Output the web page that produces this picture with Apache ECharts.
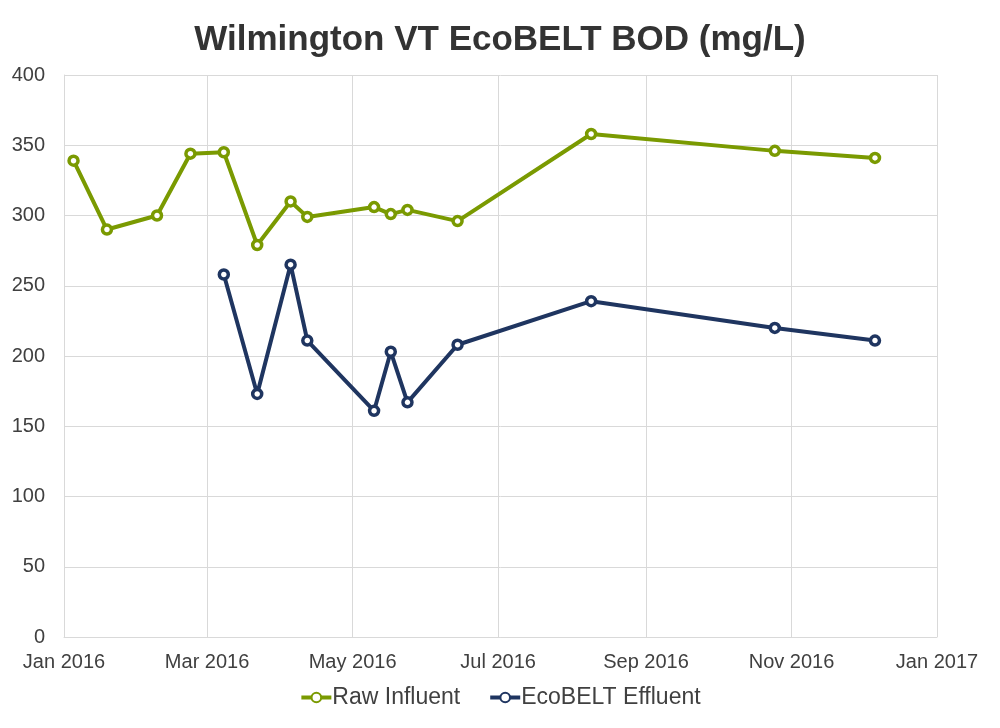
<!DOCTYPE html>
<html lang="en">
  <head>
    <meta charset="UTF-8" />
    <title>Wilmington VT EcoBELT BOD</title>
    <style>
      html, body { margin: 0; padding: 0; background: #fff; }
      #main { width: 1000px; height: 728px; }
    </style>
  </head>
  <body>
    <script src="https://cdn.jsdelivr.net/npm/echarts@6/dist/echarts.min.js"></script>
    <div id="main"></div>
    <script>
      const rawDates = [
        '2016-01-05', '2016-01-19', '2016-02-09', '2016-02-23', '2016-03-08',
        '2016-03-22', '2016-04-05', '2016-04-12', '2016-05-10', '2016-05-17',
        '2016-05-24', '2016-06-14', '2016-08-09', '2016-10-25', '2016-12-06'
      ]
      const rawValues = [339, 290, 300, 344, 345, 279, 310, 299, 306, 301, 304, 296, 358, 346, 341]

      const effDates = [
        '2016-03-08', '2016-03-22', '2016-04-05', '2016-04-12', '2016-05-10',
        '2016-05-17', '2016-05-24', '2016-06-14', '2016-08-09', '2016-10-25', '2016-12-06'
      ]
      const effValues = [258, 173, 265, 211, 161, 203, 167, 208, 239, 220, 211]

      const tickDates = ['2016-01-01', '2016-03-01', '2016-05-01', '2016-07-01', '2016-09-01', '2016-11-01', '2017-01-01']
      const monthNames = ['Jan', 'Feb', 'Mar', 'Apr', 'May', 'Jun', 'Jul', 'Aug', 'Sep', 'Oct', 'Nov', 'Dec']

      // dates -> UTC ms, plotted on a plain value axis so the 2-month ticks can be placed exactly
      const toTime = s => {
        const [y, m, d] = s.split('-').map(Number)
        return Date.UTC(y, m - 1, d)
      }
      const pairs = (dates, vals) => dates.map((d, i) => [toTime(d), vals[i]])
      const ticks = tickDates.map(toTime)

      const font = 'Liberation Sans, Arial, sans-serif'
      const green = '#7a9a01'
      const navy = '#1f3560'
      const chart = echarts.init(document.getElementById('main'))

      chart.setOption({
        animation: false,
        title: {
          text: 'Wilmington VT EcoBELT BOD (mg/L)',
          left: 'center',
          top: 18,
          textStyle: { fontFamily: font, fontSize: 35, fontWeight: 'bold', color: '#333' }
        },
        legend: {
          bottom: 14,
          left: 'center',
          itemWidth: 30,
          itemHeight: 12,
          itemGap: 28,
          lineStyle: { width: 4 },
          textStyle: { fontFamily: font, fontSize: 23, color: '#404040', padding: [0, 0, 0, -4] },
          data: ['Raw Influent', 'EcoBELT Effluent']
        },
        grid: { left: 64, right: 63, top: 75, bottom: 91, containLabel: false },
        xAxis: {
          type: 'value',
          min: ticks[0],
          max: ticks[ticks.length - 1],
          axisLine: { show: true, lineStyle: { color: '#d9d9d9', width: 1 } },
          axisTick: { show: false, customValues: ticks },
          splitLine: { show: true, lineStyle: { color: '#d9d9d9', width: 1 } },
          axisLabel: {
            customValues: ticks,
            margin: 15,
            fontFamily: font,
            fontSize: 20,
            color: '#404040',
            formatter: v => {
              const d = new Date(v)
              return monthNames[d.getUTCMonth()] + ' ' + d.getUTCFullYear()
            }
          }
        },
        yAxis: {
          type: 'value',
          min: 0,
          max: 400,
          interval: 50,
          axisLine: { show: true, lineStyle: { color: '#d9d9d9', width: 1 } },
          axisTick: { show: false },
          splitLine: { lineStyle: { color: '#d9d9d9', width: 1 } },
          axisLabel: { margin: 19, fontFamily: font, fontSize: 20, color: '#404040' }
        },
        series: [
          {
            name: 'Raw Influent',
            type: 'line',
            data: pairs(rawDates, rawValues),
            symbol: 'circle',
            symbolSize: 9,
            lineStyle: { color: green, width: 4 },
            itemStyle: { color: '#fff', borderColor: green, borderWidth: 3.5 }
          },
          {
            name: 'EcoBELT Effluent',
            type: 'line',
            data: pairs(effDates, effValues),
            symbol: 'circle',
            symbolSize: 9,
            lineStyle: { color: navy, width: 4 },
            itemStyle: { color: '#fff', borderColor: navy, borderWidth: 3.5 }
          }
        ]
      })
    </script>
  </body>
</html>
